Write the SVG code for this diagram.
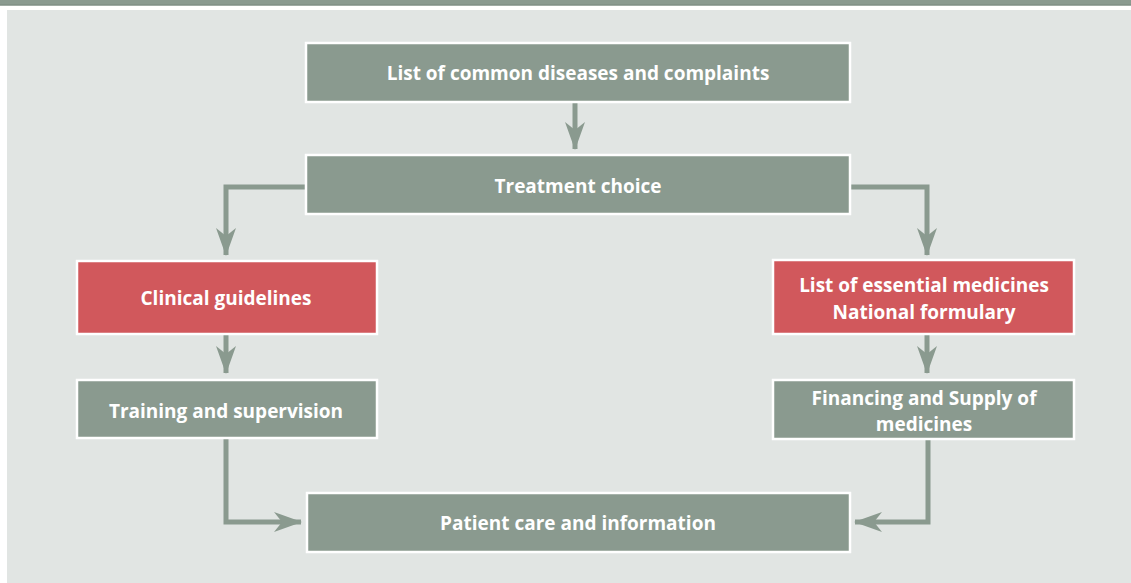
<svg xmlns="http://www.w3.org/2000/svg" width="1131" height="583" viewBox="0 0 1131 583">
  <style>
    .box { fill: #8a9a8f; stroke: #ffffff; stroke-width: 2.5; }
    .key { fill: #d1585c; stroke: #ffffff; stroke-width: 2.5; }
    .label { font-family: "Open Sans", "Liberation Sans", sans-serif; font-weight: 700; font-size: 19px; fill: #ffffff; text-anchor: middle; }
    .wire { fill: none; stroke: #8a9a8f; stroke-width: 5; }
  </style>
  <defs>
    <marker id="head" viewBox="0 0 28 20" refX="27" refY="10" markerWidth="28" markerHeight="20" markerUnits="userSpaceOnUse" orient="auto">
      <path d="M0,0 L28,10 L0,20 L8,10 Z" fill="#8a9a8f"/>
    </marker>
  </defs>

  <!-- page background and header rule -->
  <rect x="0" y="0" width="1131" height="583" fill="#ffffff"/>
  <rect x="7" y="10" width="1124" height="573" fill="#e1e5e3"/>
  <rect x="0" y="0" width="1131" height="5.5" fill="#8a9a8f"/>
  <rect x="0" y="4.5" width="1131" height="1" fill="#7a8a80"/>

  <!-- connectors -->
  <g id="connectors">
    <path class="wire" d="M575,103 V149" marker-end="url(#head)"/>
    <path class="wire" d="M306,187 H226 V255" marker-end="url(#head)"/>
    <path class="wire" d="M850,187 H927 V255" marker-end="url(#head)"/>
    <path class="wire" d="M226,334 V373" marker-end="url(#head)"/>
    <path class="wire" d="M927,334 V373" marker-end="url(#head)"/>
    <path class="wire" d="M226,438 V522 H301" marker-end="url(#head)"/>
    <path class="wire" d="M928,439 V522 H855" marker-end="url(#head)"/>
  </g>

  <g id="diseases">
    <rect class="box" x="306" y="43" width="544" height="59"/>
    <text class="label" x="578" y="80">List of common diseases and complaints</text>
  </g>

  <g id="treatment">
    <rect class="box" x="306" y="155" width="544" height="59"/>
    <text class="label" x="578" y="193">Treatment choice</text>
  </g>

  <g id="guidelines">
    <rect class="key" x="77" y="261" width="300" height="73"/>
    <text class="label" x="226" y="305">Clinical guidelines</text>
  </g>

  <g id="training">
    <rect class="box" x="77" y="380" width="300" height="58"/>
    <text class="label" x="226" y="418">Training and supervision</text>
  </g>

  <g id="medicines-list">
    <rect class="key" x="773" y="260" width="301" height="74"/>
    <text class="label" x="924" y="292">List of essential medicines</text>
    <text class="label" x="924" y="319">National formulary</text>
  </g>

  <g id="supply">
    <rect class="box" x="773" y="380" width="301" height="59"/>
    <text class="label" x="924" y="405">Financing and Supply of</text>
    <text class="label" x="924" y="431">medicines</text>
  </g>

  <g id="patient-care">
    <rect class="box" x="307" y="493" width="543" height="59"/>
    <text class="label" x="578" y="530">Patient care and information</text>
  </g>
</svg>
